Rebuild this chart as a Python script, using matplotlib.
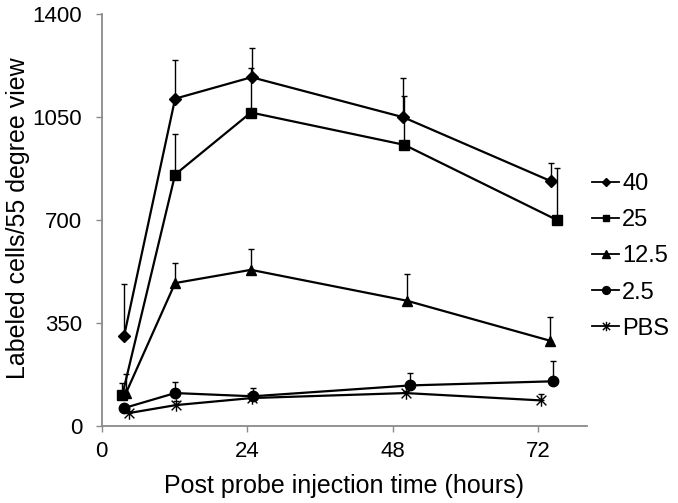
import matplotlib
matplotlib.use("Agg")
import matplotlib.pyplot as plt
from matplotlib.path import Path
from matplotlib.lines import Line2D

plt.rcParams['font.family'] = ['Liberation Sans', 'DejaVu Sans']

series_names = ["40", "25", "12.5", "2.5", "PBS"]
x_40 = [3.7, 12.1, 24.7, 49.7, 74.0]
y_40 = [306, 1112, 1185, 1049, 832]
e_40 = [175, 133, 100, 135, 61]

x_25 = [3.4, 12.1, 24.6, 49.9, 75.0]
y_25 = [105, 854, 1065, 955, 700]
e_25 = [40, 137, 152, 166, 176]

x_125 = [4.0, 12.1, 24.6, 50.3, 73.9]
y_125 = [111, 485, 530, 425, 289]
e_125 = [65, 68, 70, 91, 80]

x_25b = [3.7, 12.1, 24.9, 50.9, 74.4]
y_25b = [60, 111, 100, 137, 151]
e_25b = [8, 36, 28, 41, 70]

x_pbs = [4.5, 12.2, 24.7, 50.1, 72.4]
y_pbs = [43, 70, 94, 111, 86]
e_pbs = [6, 15, 10, 8, 23]

x_ticks = [0, 24, 48, 72]
y_ticks = [0, 350, 700, 1050, 1400]

star = Path([(0, -1), (0, 1), (-0.78, -0.78), (0.78, 0.78), (-0.78, 0.78), (0.78, -0.78)],
            [Path.MOVETO, Path.LINETO, Path.MOVETO, Path.LINETO, Path.MOVETO, Path.LINETO])

styles = [
    dict(marker='D', ms=6.0),
    dict(marker='s', ms=6.5),
    dict(marker='^', ms=7.5),
    dict(marker='o', ms=7.5),
    dict(marker=star, ms=9.0, mew=1.0),
]
data = [(x_40, y_40, e_40), (x_25, y_25, e_25), (x_125, y_125, e_125),
        (x_25b, y_25b, e_25b), (x_pbs, y_pbs, e_pbs)]

fig = plt.figure(figsize=(6.78, 5.03), dpi=100)
ax = fig.add_axes([101.7/678, 1-425.7/503, (587-101.7)/678, (425.7-14)/503])

handles = []
for name, (xs, ys, es), st in zip(series_names, data, styles):
    ax.errorbar(xs, ys, yerr=[[0]*len(es), es], fmt='none', ecolor='black',
                elinewidth=1.0, capsize=2.5, capthick=1.0, zorder=2)
    kw = dict(color='black', lw=1.6, mfc='black', mec='black', zorder=3)
    kw.update(st)
    ax.plot(xs, ys, **kw)
    hst = dict(st)
    hst['ms'] = st['ms'] * 0.75
    handles.append(Line2D([], [], color='black', lw=1.3, mfc='black', mec='black', **hst))

ax.set_xlim(0, 80)
ax.set_ylim(0, 1400)
ax.set_xticks(x_ticks)
ax.set_yticks(y_ticks)
gray = '#8a8a8a'
for s in ['top', 'right']:
    ax.spines[s].set_visible(False)
for s in ['left', 'bottom']:
    ax.spines[s].set_color(gray)
    ax.spines[s].set_linewidth(1.3)
ax.tick_params(axis='both', direction='out', length=4.5, width=1.0, color=gray,
               labelsize=16, labelcolor='black')
ax.tick_params(axis='y', pad=9.5)
ax.tick_params(axis='x', pad=6.3)

fig.text(0.026, 1-218/503, "Labeled cells/55 degree view", rotation=90,
         ha='center', va='center', fontsize=18)
fig.text(344.5/678, 1-493/503, "Post probe injection time (hours)",
         ha='center', va='baseline', fontsize=18)

fig.legend(handles, series_names, loc='upper left', bbox_to_anchor=(592/678, 1-173/503),
           frameon=False, fontsize=17, handlelength=1.15, handletextpad=0.13,
           labelspacing=0.6, borderpad=0, borderaxespad=0)

fig.savefig('out.png', dpi=100)
